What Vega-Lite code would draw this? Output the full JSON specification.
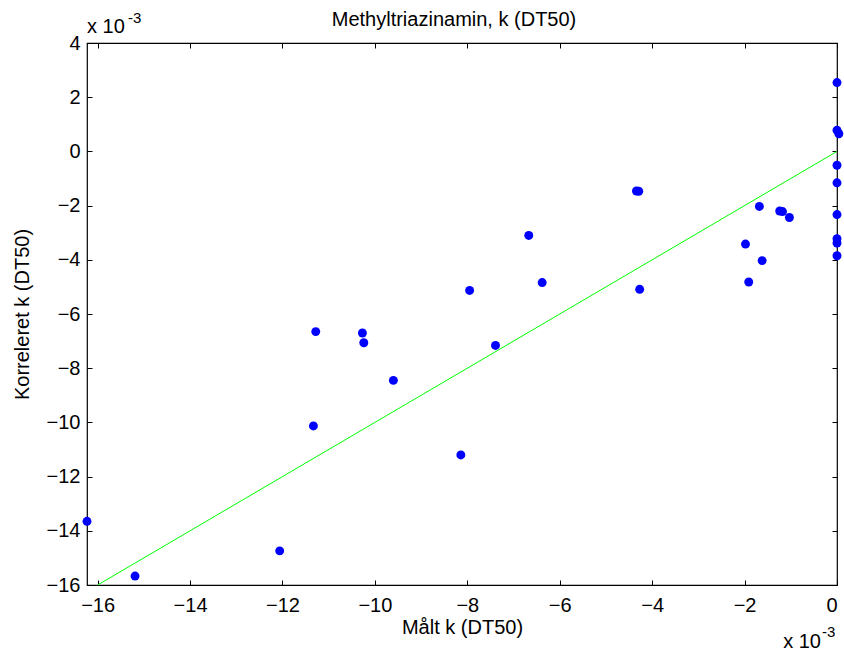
{
  "$schema": "https://vega.github.io/schema/vega-lite/v6.json",
  "width": 750,
  "height": 542,
  "autosize": {"type": "none"},
  "padding": {"left": 87, "top": 43, "right": 7, "bottom": 67},
  "background": "white",
  "config": {
    "font": "Liberation Sans",
    "view": {"stroke": "black", "strokeWidth": 1.2},
    "axis": {"domain": false, "grid": false, "tickColor": "black", "tickSize": -5, "tickWidth": 1, "labelFontSize": 20, "labelColor": "black", "titleFontSize": 20, "titleFontWeight": "normal", "titleColor": "black", "labelFont": "Liberation Sans", "titleFont": "Liberation Sans"}
  },
  "title": {"text": "Methyltriazinamin, k (DT50)", "fontSize": 20, "fontWeight": "normal", "font": "Liberation Sans", "color": "black", "dx": -8, "offset": -19},
  "resolve": {"axis": {"x": "independent", "y": "independent"}},
  "layer": [
    {
      "data": {"values": [
        {"m": -16.23, "k": -13.65},
        {"m": -15.19, "k": -15.67},
        {"m": -12.06, "k": -14.74},
        {"m": -11.28, "k": -6.65},
        {"m": -10.27, "k": -6.70},
        {"m": -10.24, "k": -7.06},
        {"m": -9.60, "k": -8.45},
        {"m": -11.33, "k": -10.13},
        {"m": -8.14, "k": -11.20},
        {"m": -7.39, "k": -7.16},
        {"m": -4.34, "k": -1.46},
        {"m": -4.29, "k": -1.47},
        {"m": -6.67, "k": -3.10},
        {"m": -7.95, "k": -5.13},
        {"m": -6.38, "k": -4.84},
        {"m": -4.27, "k": -5.09},
        {"m": 0.0, "k": 2.54},
        {"m": 0.0, "k": 0.78},
        {"m": 0.04, "k": 0.65},
        {"m": 0.0, "k": -0.51},
        {"m": 0.0, "k": -1.16},
        {"m": -1.68, "k": -2.03},
        {"m": -1.24, "k": -2.20},
        {"m": -1.18, "k": -2.22},
        {"m": -1.03, "k": -2.44},
        {"m": 0.0, "k": -2.33},
        {"m": 0.0, "k": -3.22},
        {"m": 0.0, "k": -3.38},
        {"m": 0.0, "k": -3.85},
        {"m": -1.98, "k": -3.42},
        {"m": -1.62, "k": -4.03},
        {"m": -1.91, "k": -4.82}
      ]},
      "mark": {"type": "point", "filled": true, "shape": "circle", "size": 80, "color": "#0000ff", "opacity": 1},
      "encoding": {
        "x": {"field": "m", "type": "quantitative", "scale": {"domain": [-16.23, 0], "nice": false, "zero": false},
          "axis": {"orient": "bottom", "values": [-16, -14, -12, -10, -8, -6, -4, -2, 0], "title": "Målt k (DT50)", "labelPadding": 15, "titlePadding": 2}},
        "y": {"field": "k", "type": "quantitative", "scale": {"domain": [-16, 4], "nice": false, "zero": false},
          "axis": {"orient": "left", "values": [4, 2, 0, -2, -4, -6, -8, -10, -12, -14, -16], "title": "Korreleret k (DT50)", "labelPadding": 12, "titlePadding": 14}}
      }
    },
    {
      "data": {"values": [{"m": -16, "k": -16}, {"m": 0, "k": 0}]},
      "mark": {"type": "line", "color": "#00ff00", "strokeWidth": 1},
      "encoding": {
        "x": {"field": "m", "type": "quantitative", "axis": {"orient": "top", "values": [-16, -14, -12, -10, -8, -6, -4, -2, 0], "labels": false, "title": null}},
        "y": {"field": "k", "type": "quantitative", "axis": {"orient": "right", "values": [4, 2, 0, -2, -4, -6, -8, -10, -12, -14, -16], "labels": false, "title": null}}
      }
    },
    {
      "data": {"values": [{"t": "x 10", "m": -16.23, "k": 4}]},
      "mark": {"type": "text", "align": "left", "baseline": "alphabetic", "fontSize": 20, "dy": -10, "color": "black", "font": "Liberation Sans"},
      "encoding": {"x": {"field": "m", "type": "quantitative", "axis": null}, "y": {"field": "k", "type": "quantitative", "axis": null}, "text": {"field": "t"}}
    },
    {
      "data": {"values": [{"t": "-3", "m": -16.23, "k": 4}]},
      "mark": {"type": "text", "align": "left", "baseline": "alphabetic", "fontSize": 15, "dx": 41, "dy": -20, "color": "black", "font": "Liberation Sans"},
      "encoding": {"x": {"field": "m", "type": "quantitative", "axis": null}, "y": {"field": "k", "type": "quantitative", "axis": null}, "text": {"field": "t"}}
    },
    {
      "data": {"values": [{"t": "x 10", "m": 0, "k": -16}]},
      "mark": {"type": "text", "align": "right", "baseline": "alphabetic", "fontSize": 20, "dx": -16, "dy": 63, "color": "black", "font": "Liberation Sans"},
      "encoding": {"x": {"field": "m", "type": "quantitative", "axis": null}, "y": {"field": "k", "type": "quantitative", "axis": null}, "text": {"field": "t"}}
    },
    {
      "data": {"values": [{"t": "-3", "m": 0, "k": -16}]},
      "mark": {"type": "text", "align": "left", "baseline": "alphabetic", "fontSize": 15, "dx": -15, "dy": 52, "color": "black", "font": "Liberation Sans"},
      "encoding": {"x": {"field": "m", "type": "quantitative", "axis": null}, "y": {"field": "k", "type": "quantitative", "axis": null}, "text": {"field": "t"}}
    }
  ]
}
